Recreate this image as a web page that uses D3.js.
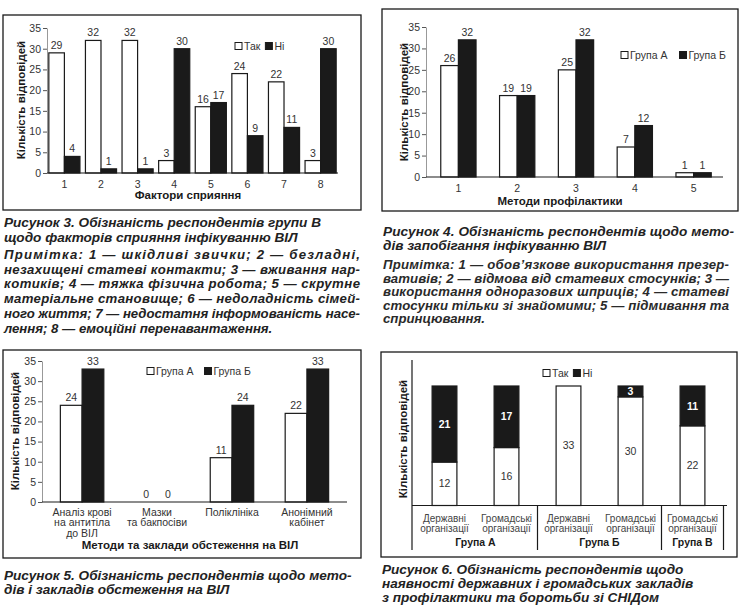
<!DOCTYPE html>
<html lang="uk">
<head>
<meta charset="UTF-8">
<title>Рисунки 3-6</title>
<script src="https://d3js.org/d3.v7.min.js"></script>
<style>
  body { margin: 0; background: #fff; }
  text { font-family: "Liberation Sans", Arial, sans-serif; }
</style>
</head>
<body>
<svg width="745" height="613"></svg>
<script>
// ---- data ----
const yTicks = [0, 5, 10, 15, 20, 25, 30, 35];

const fig3Cats = ["1", "2", "3", "4", "5", "6", "7", "8"];
const fig3Yes = [29, 32, 32, 3, 16, 24, 22, 3];
const fig3No = [4, 1, 1, 30, 17, 9, 11, 30];

const fig4Cats = ["1", "2", "3", "4", "5"];
const fig4A = [26, 19, 25, 7, 1];
const fig4B = [32, 19, 32, 12, 1];

const fig5Cats = [["Аналіз крові", "на антитіла", "до ВІЛ"], ["Мазки", "та бакпосіви"], ["Поліклініка"], ["Анонімний", "кабінет"]];
const fig5A = [24, 0, 11, 22];
const fig5B = [33, 0, 24, 33];

const fig6Cats = [["Державні", "організації"], ["Громадські", "організації"], ["Державні", "організації"], ["Громадські", "організації"], ["Громадські", "організації"]];
const fig6Groups = ["Група А", "Група А", "Група Б", "Група Б", "Група В"];
const fig6Yes = [12, 16, 33, 30, 22];
const fig6No = [21, 17, 0, 3, 11];

const cap3 = [" Рисунок 3. Обізнаність респондентів групи В", "щодо факторів сприяння інфікуванню ВІЛ"];
const note3 = ["Примітка: 1 — шкідливі звички; 2 — безладні,", "незахищені статеві контакти; 3 — вживання нар-",
  "котиків; 4 — тяжка фізична робота; 5 — скрутне", "матеріальне становище; 6 — недоладність сімей-",
  "ного життя; 7 — недостатня інформованість насе-", "лення; 8 — емоційні перенавантаження."];
const cap4 = ["Рисунок 4. Обізнаність респондентів щодо мето-", "дів запобігання інфікуванню ВІЛ"];
const note4 = ["Примітка: 1 — обов’язкове використання презер-", "вативів; 2 — відмова від статевих стосунків; 3 —",
  "використання одноразових шприців; 4 — статеві", "стосунки тільки зі знайомими; 5 — підмивання та", "спринцювання."];
const cap5 = ["Рисунок 5. Обізнаність респондентів щодо мето-", "дів і закладів обстеження на ВІЛ"];
const cap6 = ["Рисунок 6. Обізнаність респондентів щодо", "наявності державних і громадських закладів", "з профілактики та боротьби зі СНІДом"];

const svg = d3.select("svg");
const INK = "#1a1a1a", TXT = "#333";

function box(x, y, w, h) {
  svg.append("rect").attr("x", x).attr("y", y).attr("width", w).attr("height", h)
    .attr("fill", "none").attr("stroke", INK).attr("stroke-width", 1.3);
}

// caption text; with opts.justify every line but the last is stretched to that width
function lines(arr, x, y, step, opts) {
  arr.forEach((s, i) => {
    const t = svg.append("text").attr("x", x).attr("y", y + i * step)
      .attr("font-size", opts.size || 13.6).attr("font-weight", "bold")
      .attr("font-style", "italic").attr("fill", opts.fill || "#222").text(s);
    if (opts.justify && i < arr.length - 1)
      t.attr("textLength", opts.justify).attr("lengthAdjust", "spacing");
  });
}

function legend(x, y, items, gap) {
  let cx = x;
  items.forEach(it => {
    svg.append("rect").attr("x", cx).attr("y", y - 3.5).attr("width", 7).attr("height", 7)
      .attr("fill", it.fill).attr("stroke", INK).attr("stroke-width", 1);
    const t = svg.append("text").attr("x", cx + 9).attr("y", y).attr("dy", "0.35em")
      .attr("font-size", 10.5).attr("fill", TXT).text(it.label);
    cx += 9 + t.node().getComputedTextLength() + gap;
  });
}

function yTitle(x, y) {
  svg.append("text").attr("transform", `translate(${x},${y}) rotate(-90)`).attr("text-anchor", "middle")
    .attr("dy", "0.35em").attr("font-size", 11.5).attr("font-weight", "bold").attr("fill", INK)
    .text("Кількість відповідей");
}

function xTitle(x, y, s) {
  svg.append("text").attr("x", x).attr("y", y).attr("dy", "0.35em").attr("text-anchor", "middle")
    .attr("font-size", 11.5).attr("font-weight", "bold").attr("fill", INK).text(s);
}

function grouped(o) {
  const g = svg.append("g");
  const y = d3.scaleLinear().domain([0, 35]).range([o.yBase, o.yTop]);
  const x = d3.scaleBand().domain(d3.range(o.cats.length)).range(o.band)
    .paddingInner(o.pi).paddingOuter(o.po);
  const xs = d3.scaleBand().domain([0, 1]).range([0, x.bandwidth()]);

  const ya = g.append("g").attr("transform", `translate(${o.axisX},0)`)
    .call(d3.axisLeft(y).tickValues(yTicks).tickSize(4).tickSizeOuter(0).tickPadding(2));
  ya.select(".domain").attr("stroke", "#999");
  ya.selectAll(".tick line").attr("stroke", "#555");
  ya.selectAll("text").attr("font-size", 10.5).attr("fill", TXT)
    .attr("font-family", "Liberation Sans, Arial, sans-serif");

  [o.s1, o.s2].forEach((vals, si) => {
    g.selectAll(null).data(vals).join("rect")
      .attr("x", (d, i) => x(i) + xs(si)).attr("width", xs.bandwidth())
      .attr("y", d => y(d)).attr("height", d => o.yBase - y(d))
      .attr("fill", si ? INK : "#fff").attr("stroke", INK).attr("stroke-width", 1.2);
    g.selectAll(null).data(vals).join("text")
      .attr("x", (d, i) => x(i) + xs(si) + xs.bandwidth() / 2).attr("y", d => y(d) - 4)
      .attr("text-anchor", "middle").attr("font-size", 10.5).attr("fill", TXT).text(d => d);
  });

  g.append("line").attr("x1", o.axisX).attr("x2", o.axisEnd).attr("y1", o.yBase).attr("y2", o.yBase)
    .attr("stroke", INK).attr("stroke-width", 1.2);

  o.cats.forEach((c, i) => {
    const t = g.append("text").attr("text-anchor", "middle").attr("font-size", 10.5).attr("fill", TXT);
    [].concat(c).forEach((s, k) => t.append("tspan").attr("x", x(i) + x.bandwidth() / 2)
      .attr("y", o.labY + k * 10.5).attr("dy", "0.35em").text(s));
  });
}

// ---- Рисунок 3 ----
box(3, 15, 358, 195);
grouped({cats: fig3Cats, s1: fig3Yes, s2: fig3No, yBase: 173, yTop: 28, band: [47, 338],
  pi: 0.15, po: 0.05, axisX: 47, axisEnd: 338, labY: 184});
legend(235, 46, [{fill: "#fff", label: "Так"}, {fill: INK, label: "Ні"}], 5);
yTitle(21, 100);
xTitle(188, 195, "Фактори сприяння");
lines(cap3, 4, 227, 15, {});
lines(note3, 4, 259, 14.7, {size: 13.2, justify: 356});

// ---- Рисунок 4 ----
box(382, 9, 356, 202);
grouped({cats: fig4Cats, s1: fig4A, s2: fig4B, yBase: 177, yTop: 27, band: [429, 723],
  pi: 0.4, po: 0.2, axisX: 426, axisEnd: 723, labY: 188});
legend(621, 55, [{fill: "#fff", label: "Група А"}, {fill: INK, label: "Група Б"}], 12);
yTitle(404, 102);
xTitle(560, 201, "Методи профілактики");
lines(cap4, 383, 236, 13.5, {justify: 351});
lines(note4, 383, 269, 13.6, {size: 13.2, fill: "#2a2a2a", justify: 346});

// ---- Рисунок 5 ----
box(3, 350, 358, 208);
grouped({cats: fig5Cats, s1: fig5A, s2: fig5B, yBase: 502, yTop: 361, band: [42, 347],
  pi: 0.42, po: 0.245, axisX: 42, axisEnd: 347, labY: 512});
legend(147, 371, [{fill: "#fff", label: "Група А"}, {fill: INK, label: "Група Б"}], 11);
yTitle(15, 431);
xTitle(190, 545, "Методи та заклади обстеження на ВІЛ");
lines(cap5, 4, 580, 14, {});

// ---- Рисунок 6 ----
box(381, 352, 356, 205);
(function () {
  const g = svg.append("g");
  const yBase = 505.5, yBot = 550;
  const y = d3.scaleLinear().domain([0, 33]).range([yBase, 386]);
  const x = d3.scaleBand().domain(d3.range(fig6Cats.length)).range([413.5, 723.5])
    .paddingInner(0.6).paddingOuter(0.3);
  const half = x.step() * x.paddingInner() / 2;

  fig6Yes.forEach((v, i) => {
    const n = fig6No[i], cx = x(i) + x.bandwidth() / 2;
    g.append("rect").attr("x", x(i)).attr("width", x.bandwidth()).attr("y", y(v)).attr("height", yBase - y(v))
      .attr("fill", "#fff").attr("stroke", INK).attr("stroke-width", 1.2);
    if (n > 0) g.append("rect").attr("x", x(i)).attr("width", x.bandwidth()).attr("y", y(v + n))
      .attr("height", y(v) - y(v + n)).attr("fill", INK).attr("stroke", INK).attr("stroke-width", 1.2);
    g.append("text").attr("x", cx).attr("y", (y(v) + yBase) / 2).attr("dy", "0.35em").attr("text-anchor", "middle")
      .attr("font-size", 10.5).attr("fill", TXT).text(v);
    if (n > 0) g.append("text").attr("x", cx).attr("y", (y(v) + y(v + n)) / 2).attr("dy", "0.35em")
      .attr("text-anchor", "middle").attr("font-size", 10.5).attr("font-weight", "bold").attr("fill", "#fff").text(n);
    const t = g.append("text").attr("text-anchor", "middle").attr("font-size", 10).attr("fill", "#444");
    fig6Cats[i].forEach((s, k) => t.append("tspan").attr("x", cx).attr("y", 518 + k * 10.5).attr("dy", "0.35em").text(s));
  });

  // axis lines and group separators
  g.append("line").attr("x1", 412).attr("x2", 412).attr("y1", 360).attr("y2", yBot).attr("stroke", INK).attr("stroke-width", 1.2);
  g.append("line").attr("x1", 412).attr("x2", 727).attr("y1", yBase).attr("y2", yBase).attr("stroke", INK).attr("stroke-width", 1.2);
  const groups = d3.groups(fig6Groups.map((gname, i) => ({gname, i})), d => d.gname);
  groups.forEach(([gname, items]) => {
    const last = items[items.length - 1].i, first = items[0].i;
    const right = x(last) + x.bandwidth() + half;
    g.append("line").attr("x1", right).attr("x2", right).attr("y1", yBase).attr("y2", yBot)
      .attr("stroke", INK).attr("stroke-width", 1.2);
    const cx = (x(first) + x(last) + x.bandwidth()) / 2;
    g.append("text").attr("x", cx).attr("y", 542).attr("dy", "0.35em").attr("text-anchor", "middle")
      .attr("font-size", 10.5).attr("font-weight", "bold").attr("fill", INK).text(gname);
  });
})();
legend(543, 373, [{fill: "#fff", label: "Так"}, {fill: INK, label: "Ні"}], 5);
yTitle(403, 439);
lines(cap6, 382, 574, 14, {});
</script>
</body>
</html>
